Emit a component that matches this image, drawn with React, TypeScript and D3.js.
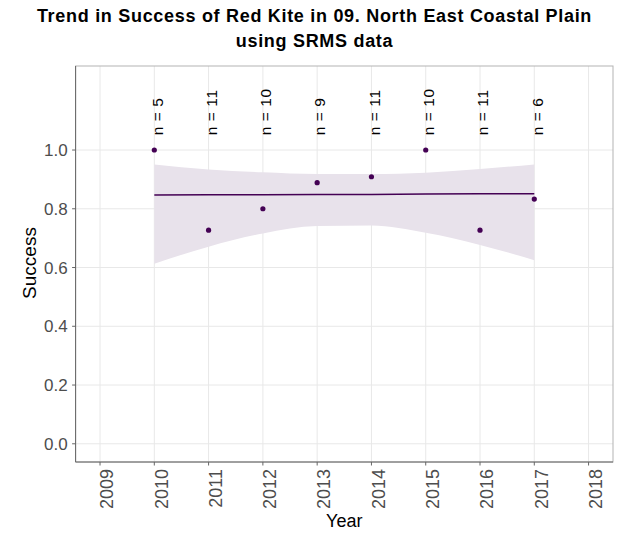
import * as d3 from "d3";
import React from "react";

// chart data
const years = [2010, 2011, 2012, 2013, 2014, 2015, 2016, 2017];
const success = [1.0, 0.727, 0.8, 0.889, 0.909, 1.0, 0.727, 0.833];
const counts = [5, 11, 10, 9, 11, 10, 11, 6];
const trendFit = [0.847, 0.848, 0.848, 0.849, 0.849, 0.85, 0.851, 0.851];
const trendUpper = [0.951, 0.934, 0.924, 0.918, 0.918, 0.923, 0.935, 0.951];
const trendLower = [0.613, 0.671, 0.716, 0.741, 0.743, 0.718, 0.677, 0.625];
const xTicks = [2009, 2010, 2011, 2012, 2013, 2014, 2015, 2016, 2017, 2018];
const yTicks = [0, 0.2, 0.4, 0.6, 0.8, 1.0];

const W = 623;
const H = 533;
const margin = { top: 66, right: 10, bottom: 71, left: 75.6 };
const purple = "#440154";
const font = "'Liberation Sans', Arial, sans-serif";

export default function App() {
  const x = d3
    .scaleLinear()
    .domain([2008.55, 2018.45]) // ggplot's 5% expansion around 2009-2018
    .range([margin.left, W - margin.right]);
  const y = d3
    .scaleLinear()
    .domain([-0.062, 1.286])
    .range([H - margin.bottom, margin.top]);

  const band = d3
    .area<number>()
    .x((_, i) => x(years[i]))
    .y0((_, i) => y(trendLower[i]))
    .y1((d) => y(d))
    .curve(d3.curveMonotoneX);
  const fitLine = d3
    .line<number>()
    .x((_, i) => x(years[i]))
    .y((d) => y(d));

  const [x0, x1] = x.range();
  const [y0, y1] = y.range(); // y0 is bottom

  return (
    <svg
      width={W}
      height={H}
      style={{ position: "absolute", left: 0, top: 0, background: "#fff" }}
      fontFamily={font}
    >
      {/* title */}
      <g fontSize={18} fontWeight="bold" letterSpacing={0.7} textAnchor="middle">
        <text x={314.5} y={22}>
          Trend in Success of Red Kite in 09. North East Coastal Plain
        </text>
        <text x={314.5} y={47}>
          using SRMS data
        </text>
      </g>

      {/* grid */}
      <g stroke="#e8e8e8" strokeWidth={1}>
        {xTicks.map((t) => (
          <line key={"gx" + t} x1={x(t)} x2={x(t)} y1={y1} y2={y0} />
        ))}
        {yTicks.map((t) => (
          <line key={"gy" + t} x1={x0} x2={x1} y1={y(t)} y2={y(t)} />
        ))}
      </g>

      {/* confidence band and trend */}
      <path d={band(trendUpper) || ""} fill="#e8e2eb" />
      <path d={fitLine(trendFit) || ""} fill="none" stroke={purple} strokeWidth={1.5} />

      {/* points */}
      {years.map((yr, i) => (
        <circle key={"p" + yr} cx={x(yr)} cy={y(success[i])} r={2.6} fill={purple} />
      ))}

      {/* n labels */}
      {years.map((yr, i) => {
        const px = x(yr) + 8.3;
        const py = y(1.05);
        return (
          <text
            key={"n" + yr}
            transform={`translate(${px},${py}) rotate(-90)`}
            fontSize={15.5}
            letterSpacing={0.6}
            fill="#000"
          >
            {`n = ${counts[i]}`}
          </text>
        );
      })}

      {/* panel border */}
      <rect x={x0} y={y1} width={x1 - x0} height={y0 - y1} fill="none" stroke="#b3b3b3" />
      <line x1={x0} x2={x0} y1={y1} y2={y0} stroke="#666" />
      <line x1={x0} x2={x1} y1={y0} y2={y0} stroke="#666" />

      {/* y axis */}
      <g>
        {yTicks.map((t) => (
          <g key={"ty" + t}>
            <line x1={x0 - 3.5} x2={x0} y1={y(t)} y2={y(t)} stroke="#666" />
            <text
              x={x0 - 8}
              y={y(t)}
              dy="0.36em"
              textAnchor="end"
              fontSize={17}
              fill="#4d4d4d"
            >
              {t.toFixed(1)}
            </text>
          </g>
        ))}
      </g>

      {/* x axis */}
      <g>
        {xTicks.map((t) => (
          <g key={"tx" + t}>
            <line x1={x(t)} x2={x(t)} y1={y0} y2={y0 + 3.5} stroke="#666" />
            <text
              transform={`translate(${x(t) + 13.3},${y0 + 7}) rotate(-90)`}
              textAnchor="end"
              fontSize={18}
              fill="#4d4d4d"
            >
              {t}
            </text>
          </g>
        ))}
      </g>

      {/* axis titles */}
      <text x={(x0 + x1) / 2} y={527} textAnchor="middle" fontSize={18}>
        Year
      </text>
      <text
        transform={`translate(35.5,263) rotate(-90)`}
        textAnchor="middle"
        fontSize={19}
      >
        Success
      </text>
    </svg>
  );
}
